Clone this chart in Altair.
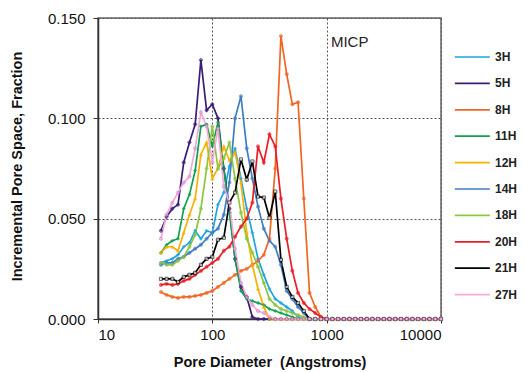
import altair as alt
import pandas as pd

series = ["3H", "5H", "8H", "11H", "12H", "14H", "18H", "20H", "21H", "27H"]
colors = ["#1ea5e0", "#3b1c78", "#f26522", "#0f9f4f", "#f9b000",
          "#3f7cc4", "#8cc63f", "#ec1c24", "#000000", "#f4a9d6"]
shapes = ["diamond", "cross", "circle", "diamond", "triangle-up",
          "circle", "circle", "circle", "square", "circle"]

diameters = [35.5, 39.8, 44.7, 50.1, 56.2, 63.1, 70.8, 79.4, 89.1, 100,
             112, 126, 141, 158, 178, 200, 224, 251, 282, 316,
             355, 398, 447, 501, 562, 631, 708, 794, 891, 1000,
             1122, 1259, 1413, 1585, 1778, 1995, 2239, 2512, 2818, 3162,
             3548, 3981, 4467, 5012, 5623, 6310, 7079, 7943, 8913, 10000]

v3H = [0.028, 0.029, 0.030, 0.032, 0.036, 0.038, 0.044, 0.040, 0.044, 0.043,
       0.057, 0.063, 0.076, 0.085, 0.070, 0.055, 0.043, 0.030, 0.022, 0.015,
       0.010, 0.008, 0.006, 0.004, 0.001, 0, 0, 0, 0, 0,
       0, 0, 0, 0, 0, 0, 0, 0, 0, 0, 0, 0, 0, 0, 0, 0, 0, 0, 0, 0]
v5H = [0.044, 0.051, 0.055, 0.057, 0.078, 0.088, 0.097, 0.129, 0.104, 0.107,
       0.100, 0.075, 0.055, 0.030, 0.016, 0.011, 0.001, 0, 0, 0,
       0, 0, 0, 0, 0, 0, 0, 0, 0, 0,
       0, 0, 0, 0, 0, 0, 0, 0, 0, 0, 0, 0, 0, 0, 0, 0, 0, 0, 0, 0]
v8H = [0.0135, 0.012, 0.011, 0.0105, 0.011, 0.011, 0.0115, 0.012, 0.013, 0.014,
       0.016, 0.018, 0.020, 0.022, 0.024, 0.025, 0.027, 0.029, 0.032, 0.040,
       0.075, 0.141, 0.122, 0.107, 0.108, 0.060, 0.013, 0.006, 0.001, 0,
       0, 0, 0, 0, 0, 0, 0, 0, 0, 0, 0, 0, 0, 0, 0, 0, 0, 0, 0, 0]
v11H = [0.033, 0.037, 0.039, 0.040, 0.055, 0.062, 0.074, 0.096, 0.097, 0.086,
        0.098, 0.075, 0.053, 0.030, 0.014, 0.010, 0.009, 0.008, 0.007, 0.005,
        0.004, 0.003, 0.002, 0.001, 0, 0, 0, 0, 0, 0,
        0, 0, 0, 0, 0, 0, 0, 0, 0, 0, 0, 0, 0, 0, 0, 0, 0, 0, 0, 0]
v12H = [0.033, 0.036, 0.036, 0.034, 0.043, 0.052, 0.060, 0.082, 0.088, 0.070,
        0.075, 0.086, 0.079, 0.083, 0.068, 0.043, 0.027, 0.015, 0.006, 0,
        0, 0, 0, 0, 0, 0, 0, 0, 0, 0,
        0, 0, 0, 0, 0, 0, 0, 0, 0, 0, 0, 0, 0, 0, 0, 0, 0, 0, 0, 0]
v14H = [0.027, 0.028, 0.028, 0.030, 0.031, 0.033, 0.035, 0.037, 0.040, 0.043,
        0.045, 0.052, 0.068, 0.100, 0.111, 0.085, 0.070, 0.056, 0.045, 0.039,
        0.036, 0.027, 0.014, 0.010, 0.006, 0.003, 0, 0, 0, 0,
        0, 0, 0, 0, 0, 0, 0, 0, 0, 0, 0, 0, 0, 0, 0, 0, 0, 0, 0, 0]
v18H = [0.028, 0.027, 0.027, 0.029, 0.031, 0.036, 0.042, 0.055, 0.075, 0.096,
        0.075, 0.080, 0.088, 0.070, 0.053, 0.040, 0.033, 0.026, 0.018, 0.010,
        0.007, 0.005, 0.004, 0.003, 0.002, 0.001, 0, 0, 0, 0,
        0, 0, 0, 0, 0, 0, 0, 0, 0, 0, 0, 0, 0, 0, 0, 0, 0, 0, 0, 0]
v20H = [0.017, 0.0175, 0.017, 0.0175, 0.019, 0.020, 0.022, 0.024, 0.026, 0.028,
        0.030, 0.034, 0.036, 0.041, 0.046, 0.050, 0.058, 0.086, 0.078, 0.092,
        0.086, 0.060, 0.040, 0.024, 0.013, 0.008, 0.005, 0.003, 0.001, 0,
        0, 0, 0, 0, 0, 0, 0, 0, 0, 0, 0, 0, 0, 0, 0, 0, 0, 0, 0, 0]
v21H = [0.020, 0.020, 0.020, 0.0185, 0.021, 0.022, 0.023, 0.027, 0.030, 0.031,
        0.0395, 0.0405, 0.058, 0.063, 0.0795, 0.0695, 0.0785, 0.061, 0.0605, 0.0505,
        0.0635, 0.0295, 0.016, 0.011, 0.008, 0.004, 0, 0, 0, 0,
        0, 0, 0, 0, 0, 0, 0, 0, 0, 0, 0, 0, 0, 0, 0, 0, 0, 0, 0, 0]
v27H = [0.040, 0.052, 0.058, 0.063, 0.068, 0.071, 0.085, 0.103, 0.096, 0.078,
        0.095, 0.066, 0.058, 0.035, 0.018, 0.011, 0.007, 0.004, 0.003, 0.001,
        0, 0, 0, 0, 0, 0, 0, 0, 0, 0,
        0, 0, 0, 0, 0, 0, 0, 0, 0, 0, 0, 0, 0, 0, 0, 0, 0, 0, 0, 0]

values = [v3H, v5H, v8H, v11H, v12H, v14H, v18H, v20H, v21H, v27H]

x_ticks = [10, 100, 1000, 10000]
y_ticks = [0.0, 0.05, 0.10, 0.15]
annotation = "MICP"

rows = []
for si, (name, vals) in enumerate(zip(series, values)):
    for d, v in zip(diameters, vals):
        rows.append({"series": name, "marker": name, "d": d, "v": v})
df = pd.DataFrame(rows)

FONT = "Liberation Sans"

x_enc = alt.X("d:Q", scale=alt.Scale(type="log", domain=[10, 10000], nice=False),
              axis=alt.Axis(values=x_ticks, format="d",
                            title="Pore Diameter\u00a0\u00a0(Angstroms)",
                            titleY=43, titleBaseline="middle",
                            labelPadding=4, tickSize=4))
y_enc = alt.Y("v:Q", scale=alt.Scale(domain=[0, 0.15], nice=False, zero=False),
              axis=alt.Axis(values=y_ticks, format=".3f",
                            title="Incremental Pore Space, Fraction",
                            titleX=-81, titleY=148, titleAngle=270,
                            titleAlign="center", titleBaseline="middle",
                            labelPadding=8, tickSize=5))

color_scale = alt.Scale(domain=series, range=colors)

lines = alt.Chart(df).mark_line(interpolate="linear").encode(
    x=x_enc,
    y=y_enc,
    color=alt.Color("series:N", scale=color_scale, sort=series,
                    legend=alt.Legend(orient="none", legendX=379, legendY=32, title=None,
                                      symbolType="M-5,0H1", symbolSize=136,
                                      symbolStrokeWidth=2.4, labelFont=FONT,
                                      labelFontSize=12, labelFontWeight="bold",
                                      labelColor="#222", rowPadding=13.4,
                                      labelOffset=4)),
    strokeWidth=alt.StrokeWidth("marker:N",
                                scale=alt.Scale(domain=series,
                                                range=[1.7, 1.7, 1.7, 1.9, 1.7, 1.7, 1.7, 1.9, 2.8, 1.7]),
                                legend=None),
    order=alt.Order("d:Q"),
)

fills = ["#1ea5e0", "#3b1c78", "#f26522", "#0f9f4f", "#f9b000",
         "#3f7cc4", "#8cc63f", "#ec1c24", "#ffffff", "#f4a9d6"]
strokes = ["#1ea5e0", "#3b1c78", "#f26522", "#0f9f4f", "#f9b000",
           "#3f7cc4", "#8cc63f", "#ec1c24", "#000000", "#c77fcc"]

points = alt.Chart(df).mark_point(filled=True, strokeWidth=0.9).encode(
    x="d:Q",
    y="v:Q",
    shape=alt.Shape("marker:N", scale=alt.Scale(domain=series, range=shapes), legend=None),
    fill=alt.Fill("marker:N", scale=alt.Scale(domain=series, range=fills), legend=None),
    stroke=alt.Stroke("marker:N", scale=alt.Scale(domain=series, range=strokes), legend=None),
    size=alt.Size("marker:N", scale=alt.Scale(domain=series,
                                              range=[10, 10, 12, 10, 10, 4, 6, 12, 16, 10]),
                  legend=None),
)

text_df = pd.DataFrame({"d": [1090], "v": [0.138], "t": [annotation]})
label = alt.Chart(text_df).mark_text(align="left", baseline="middle", fontSize=15,
                                     font=FONT, color="#222").encode(
    x="d:Q", y="v:Q", text="t:N")

chart = alt.layer(lines, points, label).resolve_scale(
    color="independent", shape="independent", size="independent",
    fill="independent", stroke="independent", strokeWidth="independent"
).properties(
    width=343, height=301,
    autosize=alt.AutoSizeParams(type="none"),
    padding={"left": 98, "top": 18, "right": 83, "bottom": 53},
    background="white",
).configure_view(
    stroke="#666", strokeWidth=1.5
).configure_axis(
    labelFont=FONT, titleFont=FONT, labelFontSize=15, titleFontSize=14.5,
    titleFontWeight="bold", labelColor="#111", titleColor="#111",
    grid=True, gridColor="#555", gridDash=[2, 2], gridWidth=1, gridOpacity=1,
    domainColor="#333", domainWidth=1.5, tickColor="#333",
)

chart.save("out.html", embed_options={"renderer": "svg", "actions": False})
